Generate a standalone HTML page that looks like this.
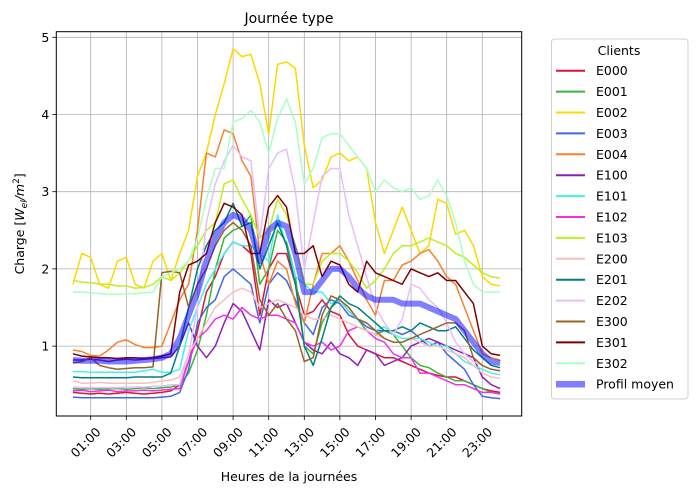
<!DOCTYPE html>
<html><head><meta charset="utf-8">
<style>
html,body{margin:0;padding:0;background:#fff;}
svg{display:block;font-family:"DejaVu Sans","Liberation Sans",sans-serif;}
</style></head>
<body>
<svg id="chart" width="697" height="494" viewBox="0 0 697 494"></svg>
<script>
const categories = ["00:00","00:30","01:00","01:30","02:00","02:30","03:00","03:30","04:00","04:30","05:00","05:30","06:00","06:30","07:00","07:30","08:00","08:30","09:00","09:30","10:00","10:30","11:00","11:30","12:00","12:30","13:00","13:30","14:00","14:30","15:00","15:30","16:00","16:30","17:00","17:30","18:00","18:30","19:00","19:30","20:00","20:30","21:00","21:30","22:00","22:30","23:00","23:30","24:00"];
const xTickLabels = ["01:00","03:00","05:00","07:00","09:00","11:00","13:00","15:00","17:00","19:00","21:00","23:00"];
const xTickHours = [1,3,5,7,9,11,13,15,17,19,21,23];
const yTickValues = [1,2,3,4,5];
const seriesNames = ["E000","E001","E002","E003","E004","E100","E101","E102","E103","E200","E201","E202","E300","E301","E302"];
const E000 = [0.4,0.39,0.38,0.39,0.38,0.39,0.4,0.39,0.38,0.39,0.4,0.42, 0.5,0.8,1.2,1.7,1.9,2.2,2.35,2.3,2.2,1.4,2.0,2.2,2.2,1.8,1.4,1.45,1.6,1.45,1.4,1.15,1.0,0.95,0.9,0.85,0.85,0.8,0.75,0.7,0.65,0.62,0.6,0.6,0.55,0.5,0.45,0.42, 0.4];
const E001 = [0.45,0.44,0.45,0.44,0.45,0.45,0.44,0.45,0.46,0.45,0.46,0.47, 0.5,0.65,0.95,1.4,2.0,2.4,2.5,2.55,2.7,1.8,2.0,2.5,2.35,1.9,1.0,0.9,1.3,1.5,1.6,1.45,1.35,1.2,1.15,1.2,1.15,1.0,0.85,0.75,0.72,0.65,0.6,0.55,0.55,0.5,0.45,0.4, 0.38];
const E002 = [1.8,2.2,2.15,1.8,1.75,2.1,2.15,1.8,1.75,2.1,2.2,1.85, 2.2,2.5,3.2,3.5,4.0,4.4,4.85,4.75,4.78,4.4,3.75,4.65,4.68,4.6,3.6,3.05,3.15,3.45,3.5,3.4,3.45,3.3,2.6,2.2,2.5,2.8,2.5,2.2,2.3,2.9,2.85,2.45,2.5,2.3,1.9,1.8, 1.78];
const E003 = [0.34,0.33,0.33,0.33,0.33,0.33,0.33,0.33,0.33,0.33,0.34,0.35, 0.4,0.7,1.3,1.5,1.6,1.9,2.0,1.9,1.8,1.3,1.8,1.95,1.85,1.6,1.3,1.15,1.5,1.6,1.55,1.4,1.35,1.25,1.2,1.2,1.2,1.15,1.2,1.1,1.0,1.05,0.9,0.8,0.7,0.5,0.35,0.33, 0.32];
const E004 = [0.95,0.93,0.88,0.87,0.95,1.05,1.08,1.02,0.98,0.98,1.0,1.3, 1.6,1.8,2.5,3.5,3.45,3.8,3.75,3.4,3.2,2.2,1.8,2.1,2.0,1.55,1.3,1.8,2.2,2.2,2.3,2.1,1.85,1.6,1.4,1.85,1.85,2.05,2.1,2.2,2.25,2.1,1.9,1.8,1.5,1.2,0.9,0.85, 0.82];
const E100 = [0.82,0.82,0.83,0.82,0.8,0.82,0.83,0.82,0.83,0.84,0.85,0.86, 1.0,1.3,1.0,0.85,1.0,1.3,1.55,1.45,1.2,0.95,1.6,1.5,1.55,1.3,1.05,0.95,0.9,1.05,0.9,0.85,0.75,0.95,0.9,0.75,0.8,0.85,1.0,1.05,1.1,1.05,1.0,0.95,0.9,0.85,0.6,0.5, 0.45];
const E101 = [0.67,0.67,0.66,0.66,0.66,0.66,0.66,0.66,0.68,0.7,0.66,0.66, 0.7,1.2,1.5,1.8,2.0,2.2,2.35,2.3,2.3,2.2,2.1,2.7,2.3,1.9,1.8,1.7,1.7,1.55,1.6,1.45,1.35,1.3,1.2,1.25,1.15,1.1,1.1,1.1,1.05,1.0,1.0,0.9,0.8,0.75,0.7,0.65, 0.63];
const E102 = [0.42,0.43,0.41,0.42,0.43,0.41,0.42,0.42,0.43,0.42,0.43,0.44, 0.45,0.8,1.1,1.2,1.35,1.4,1.35,1.5,1.4,1.35,1.4,1.4,1.35,1.3,1.05,1.0,1.05,0.95,1.0,1.2,1.25,1.2,1.1,1.05,0.9,0.85,0.85,0.65,0.65,0.6,0.55,0.5,0.5,0.45,0.4,0.4, 0.38];
const E103 = [1.85,1.83,1.82,1.8,1.8,1.78,1.78,1.75,1.76,1.8,1.9,1.85, 1.95,2.1,2.3,2.5,2.6,3.1,3.15,2.9,2.7,2.4,2.5,2.9,2.7,2.3,1.8,1.8,2.1,2.2,2.2,2.1,1.95,1.75,1.85,2.0,2.2,2.3,2.3,2.35,2.4,2.35,2.3,2.2,2.15,2.05,1.95,1.9, 1.88];
const E200 = [0.55,0.52,0.52,0.53,0.52,0.52,0.52,0.52,0.52,0.53,0.55,0.56, 0.6,0.9,1.1,1.3,1.5,1.6,1.7,1.75,1.7,1.5,1.55,1.6,1.55,1.5,1.4,1.35,1.35,1.4,1.35,1.3,1.25,1.2,1.15,1.1,1.05,1.05,1.1,1.05,1.0,1.0,0.95,0.9,0.85,0.75,0.65,0.6, 0.58];
const E201 = [0.6,0.59,0.59,0.59,0.59,0.59,0.59,0.6,0.6,0.6,0.6,0.65, 1.0,1.5,2.0,2.3,2.5,2.6,2.85,2.55,2.6,2.0,2.3,2.6,2.3,1.8,1.0,0.75,1.1,1.5,1.65,1.55,1.5,1.4,1.3,1.2,1.2,1.25,1.2,1.3,1.25,1.2,1.2,1.25,1.1,0.95,0.85,0.75, 0.72];
const E202 = [0.47,0.46,0.46,0.46,0.46,0.46,0.47,0.47,0.47,0.48,0.48,0.5, 0.5,0.9,1.5,2.6,3.1,3.4,3.6,3.45,3.4,2.4,3.3,3.5,3.55,3.0,2.0,2.6,3.2,3.3,3.3,2.7,2.3,1.9,1.5,1.3,1.15,1.35,1.8,1.75,1.6,1.5,1.3,1.05,0.9,0.8,0.75,0.7, 0.68];
const E300 = [0.78,0.8,0.85,0.75,0.72,0.7,0.71,0.72,0.72,0.73,1.95,1.97, 1.95,1.5,1.8,2.0,2.3,2.5,2.6,2.5,2.3,1.6,1.4,1.55,1.35,1.2,0.8,0.85,1.4,1.65,1.6,1.5,1.35,1.3,1.2,1.1,1.05,1.05,1.1,1.15,1.2,1.25,1.3,1.3,1.2,0.85,0.75,0.7, 0.68];
const E301 = [0.9,0.87,0.86,0.85,0.85,0.84,0.85,0.85,0.84,0.85,0.87,0.9, 1.7,2.05,2.1,2.2,2.6,2.85,2.8,2.7,2.2,2.2,2.8,2.95,2.8,2.2,2.2,2.3,1.9,2.1,2.05,1.8,1.7,2.1,1.95,1.9,1.85,1.8,2.0,1.95,1.9,1.95,1.85,1.85,1.7,1.55,1.0,0.9, 0.88];
const E302 = [1.7,1.7,1.69,1.68,1.67,1.67,1.68,1.68,1.69,1.7,1.9,1.95, 2.0,2.1,2.4,2.9,3.3,3.3,3.9,3.95,4.05,3.9,3.5,3.95,4.2,3.9,3.1,3.3,3.7,3.75,3.75,3.6,3.45,3.3,3.0,3.15,3.05,3.0,3.05,2.9,2.95,3.15,2.95,2.6,2.1,1.8,1.7,1.7, 1.7];
const meanProfile = [0.82,0.81,0.81,0.81,0.8,0.8,0.8,0.81,0.82,0.83,0.85,0.9, 1.1,1.4,1.7,2.1,2.4,2.6,2.7,2.65,2.5,2.1,2.5,2.6,2.55,2.2,1.7,1.7,1.85,2.0,2.0,1.9,1.75,1.65,1.6,1.6,1.6,1.55,1.55,1.55,1.5,1.45,1.4,1.35,1.2,1.05,0.9,0.8, 0.78];
const seriesValues = [E000,E001,E002,E003,E004,E100,E101,E102,E103,E200,E201,E202,E300,E301,E302];
const seriesColors = ["#dc143c","#3cb43c","#ffd700","#4169e1","#f58231","#8e1eb4","#46f0f0","#f032e6","#bfef20","#fabebe","#008080","#e6beff","#9a6324","#800000","#aaffc3"];

const L=56.3, R=521.7, T=31.7, B=416;
function xScale(h){ return 72.9 + 17.8*h; }
function yScale(v){ return 423.3 - 77.2*v; }
function catHour(i){ const p=categories[i].split(":"); return (+p[0])+(+p[1])/60; }

const svg=document.getElementById('chart');
const NS="http://www.w3.org/2000/svg";
function mk(tag, attrs, parent){ const e=document.createElementNS(NS,tag); for(const k in attrs) e.setAttribute(k,attrs[k]); (parent||svg).appendChild(e); return e; }

const gridG=mk('g',{});


xTickHours.forEach(h=>{
  const l=mk('line',{x1:xScale(h),x2:xScale(h),y1:T,y2:B,stroke:'#b0b0b0','stroke-width':0.8},gridG);
  
  
});
yTickValues.forEach(v=>{
  const l=mk('line',{x1:L,x2:R,y1:yScale(v),y2:yScale(v),stroke:'#b0b0b0','stroke-width':0.8},gridG);
  
  
});

const clip=mk('clipPath',{id:'pc'}); mk('rect',{x:L,y:T,width:R-L,height:B-T},clip);
const linesG=mk('g',{'clip-path':'url(#pc)'});
function pathFor(vals){ return vals.map((v,i)=>(i?'L':'M')+xScale(catHour(i)).toFixed(1)+','+yScale(v).toFixed(1)).join(' '); }
seriesValues.forEach((vals,k)=>{
  const p=mk('path',{d:pathFor(vals),fill:'none',stroke:seriesColors[k],'stroke-width':1.5,'stroke-linejoin':'round'},linesG);
  
  
});
const mp=mk('path',{d:pathFor(meanProfile),fill:'none',stroke:'#0000ff','stroke-opacity':0.5,'stroke-width':6,'stroke-linejoin':'round'},linesG);



const frame=mk('rect',{x:L,y:T,width:R-L,height:B-T,fill:'none',stroke:'#000','stroke-width':1});



xTickHours.forEach((h,i)=>{
  const x=xScale(h);
  const t=mk('line',{x1:x,x2:x,y1:B,y2:B+4,stroke:'#000','stroke-width':0.8});
  
  
  const tx=mk('text',{x:x+4,y:B+10,'font-size':12.5,'text-anchor':'end',transform:'rotate(-45 '+(x+4)+' '+(B+10)+')','dominant-baseline':'hanging'});
  tx.textContent=xTickLabels[i];
  
  
});
yTickValues.forEach(v=>{
  const y=yScale(v);
  const t=mk('line',{x1:L-4,x2:L,y1:y,y2:y,stroke:'#000','stroke-width':0.8});
  
  
  const tx=mk('text',{x:L-7,y:y+4.5,'font-size':12.5,'text-anchor':'end'});
  tx.textContent=String(v);
  
  
});

const title=mk('text',{x:(L+R)/2,y:23,'font-size':14,'text-anchor':'middle'});
title.textContent='Journée type';


const xl=mk('text',{x:(L+R)/2,y:481,'font-size':12.5,'text-anchor':'middle'});
xl.textContent='Heures de la journées';


const yl=mk('text',{x:0,y:0,'font-size':12.5,'text-anchor':'middle',transform:'translate(24 '+((T+B)/2)+') rotate(-90)'});
yl.innerHTML='Charge [<tspan font-style="italic">W</tspan><tspan font-size="9" dy="3" font-style="italic">el</tspan><tspan dy="-3" font-style="italic">/m</tspan><tspan font-size="9" dy="-5">2</tspan><tspan dy="5">]</tspan>';



const lg=mk('g',{});


const lb=mk('rect',{x:551.5,y:39,width:136.5,height:360,rx:3,fill:'#fff',stroke:'#d0d0d0','stroke-width':1},lg);


const lt=mk('text',{x:619,y:55,'font-size':12.5,'text-anchor':'middle'},lg);
lt.textContent='Clients';


const entries=seriesNames.map((n,k)=>[n,seriesColors[k],1.5,1]).concat([['Profil moyen','#0000ff',6,0.5]]);
entries.forEach((e,i)=>{
  const y=70.7+i*20.9;
  const g=mk('g',{},lg);
  
  
  mk('line',{x1:556,x2:585,y1:y,y2:y,stroke:e[1],'stroke-width':e[2]+0.5,'stroke-opacity':e[3]},g);
  const t=mk('text',{x:596,y:y+4.5,'font-size':12.5},g);
  t.textContent=e[0];
});
</script>
</body></html>
